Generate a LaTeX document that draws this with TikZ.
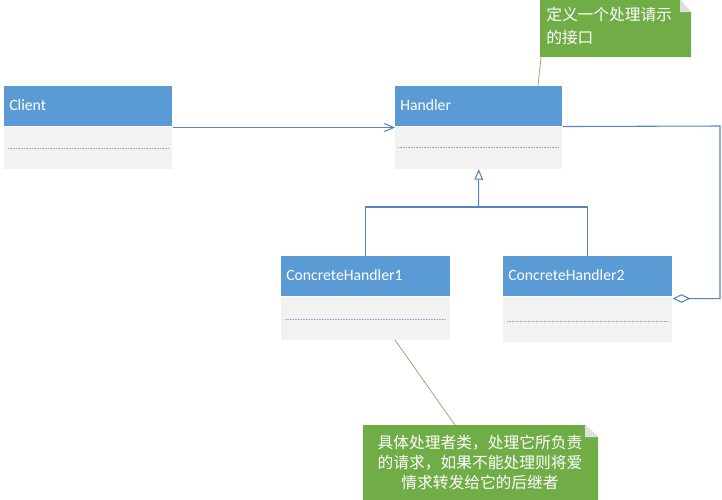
\documentclass[tikz,border=0pt]{standalone}
\usepackage{fontspec}
\newfontfamily\cjkf{Noto Sans CJK SC}
\newfontfamily\calf{Carlito}
\usetikzlibrary{arrows.meta,calc}
\definecolor{hdrblue}{HTML}{5B9BD5}
\definecolor{bodygray}{HTML}{F2F2F2}
\definecolor{notegreen}{HTML}{70AD47}
\definecolor{connblue}{HTML}{5685BE}
\definecolor{dotblue}{HTML}{8EAACB}
\definecolor{noteline}{HTML}{A3A37A}
\begin{document}
\begin{tikzpicture}[x=0.75pt,y=-0.75pt,
  hdr/.style={fill=hdrblue, anchor=north west, inner xsep=3.75pt, inner ysep=0pt,
    minimum height=30pt, text=white, align=left, font=\calf\fontsize{11.8}{13}\selectfont},
  bodybox/.style={fill=bodygray, anchor=north west, inner sep=0pt},
  conn/.style={draw=connblue, line width=0.8pt},
  dotline/.style={draw=dotblue, line width=0.7pt, dash pattern=on 0.6pt off 0.6pt},
  notetext/.style={text=white, font=\cjkf\fontsize{11.8}{17}\selectfont, inner sep=0pt},
  nline/.style={draw=noteline, line width=0.6pt}]
\useasboundingbox (0,0) rectangle (722,500);

% Client
\node[hdr, text width=118.5pt] (clienth) at (4,86) {Client\vphantom{g}\raisebox{1.5pt}{}};
\node[bodybox, minimum width=126pt, minimum height=31.5pt] (clientb) at (clienth.south west) {};
\draw[dotline] ($(clientb.west)+(4,1)$) -- ($(clientb.east)+(-4,1)$);

% Handler
\node[hdr, text width=117.75pt] (handlerh) at (395,86) {Handler\vphantom{g}};
\node[bodybox, minimum width=125.25pt, minimum height=31.5pt] (handlerb) at (handlerh.south west) {};
\draw[dotline] ($(handlerb.west)+(3,0)$) -- ($(handlerb.east)+(-3,0)$);

% ConcreteHandler1
\node[hdr, text width=119.25pt] (ch1h) at (281,256) {ConcreteHandler1\vphantom{g}};
\node[bodybox, minimum width=126.75pt, minimum height=32.25pt] (ch1b) at (ch1h.south west) {};
\draw[dotline] ($(ch1b.west)+(4,1)$) -- ($(ch1b.east)+(-4,1)$);

% ConcreteHandler2
\node[hdr, text width=119.25pt] (ch2h) at (503,256) {ConcreteHandler2\vphantom{g}};
\node[bodybox, minimum width=126.75pt, minimum height=33.75pt] (ch2b) at (ch2h.south west) {};
\draw[dotline] ($(ch2b.west)+(4,2)$) -- ($(ch2b.east)+(-4,2)$);

% Client -> Handler
\draw[conn, -{Straight Barb[length=7pt,width=6pt]}] ([yshift=-0.75pt]clienth.south east) -- ([yshift=-0.75pt]handlerh.south west);

% Inheritance
\coordinate (junc) at (478.5,207);
\draw[conn] (ch1h.north) |- (junc) -| (ch2h.north);
\draw[conn, -{Triangle[open,length=8pt,width=6.5pt]}] (junc) -- (handlerb.south);

% Aggregation
\coordinate (aggc) at (720,126);
\draw[conn, -{Diamond[open,length=13.5pt,width=6.5pt]}] (handlerh.south east) -- (aggc) |- ([yshift=-1.5pt]ch2h.south east);

% Note 1
\node[anchor=north west, minimum width=113.25pt, minimum height=42.75pt, inner sep=0pt] (note1) at (540,0) {};
\fill[notegreen] (540,0) -- (680,0) -- (691,12) -- (691,57) -- (540,57) -- cycle;
\fill[gray!25] (680,0) -- (691,12) -- (680,12) -- cycle;
\node[notetext, anchor=north west, align=left] (note1t) at (546,7) {定义一个处理请示\\的接口};
\draw[nline] ([xshift=0.75pt]note1.south west) -- ([xshift=107.25pt]handlerh.north west);

% Note 2
\node[anchor=north west, minimum width=176.25pt, minimum height=56.25pt, inner sep=0pt] (note2) at (363,425) {};
\fill[notegreen] (363,425) -- (585,425) -- (598,437) -- (598,500) -- (363,500) -- cycle;
\fill[gray!25] (585,425) -- (598,437) -- (585,437) -- cycle;
\node[notetext, align=center, font=\cjkf\fontsize{11.8}{15}\selectfont] (note2t) at (480,462) {具体处理者类，处理它所负责\\的请求，如果不能处理则将爱\\情求转发给它的后继者};
\draw[nline] ([xshift=85.5pt]ch1b.south west) -- ([xshift=69pt]note2.north west);
\end{tikzpicture}
\end{document}
